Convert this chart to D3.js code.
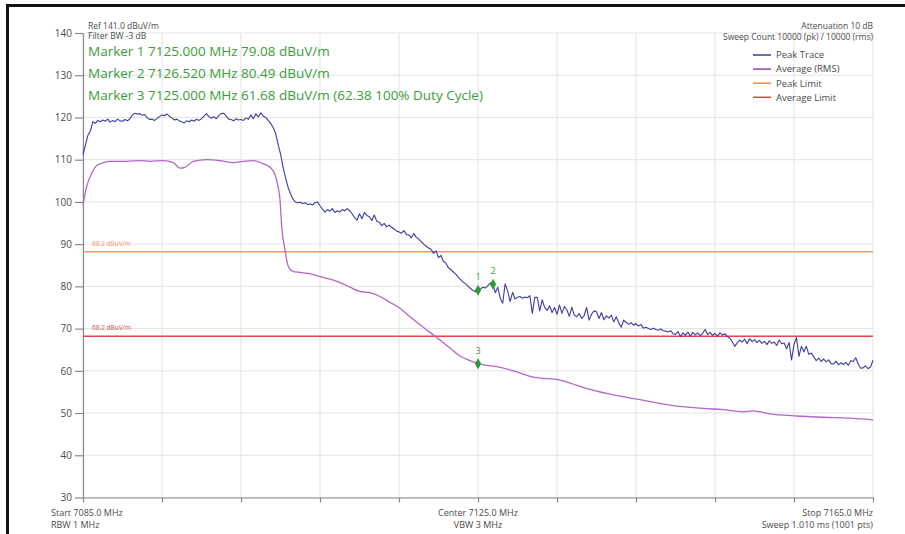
<!DOCTYPE html>
<html>
<head>
<meta charset="utf-8">
<script src="https://cdn.jsdelivr.net/npm/d3@7"></script>
<style>
  html, body { margin: 0; padding: 0; background: #fff; }
  svg { display: block; font-family: "Open Sans", "Noto Sans", sans-serif; }
</style>
</head>
<body>
<svg id="chart" width="905" height="534"></svg>
<script>
// Sweep settings
const startFreq = 7085.0;
const stopFreq = 7165.0;
const peakStep = 0.25; // MHz between peak-trace samples

const levelTicks = [30, 40, 50, 60, 70, 80, 90, 100, 110, 120, 130, 140];
const freqTicks = [7085, 7093, 7101, 7109, 7117, 7125, 7133, 7141, 7149, 7157, 7165];

// Peak trace (dBuV/m), one sample every 0.25 MHz from 7085.0 MHz
const peakLevel = [
  111.2, 113.5, 115.8, 116.8,
  119.0, 118.6, 119.3, 119.0,
  119.4, 119.1, 119.6, 118.9,
  119.3, 119.0, 119.6, 119.2,
  119.1, 119.5, 119.2, 119.7,
  120.6, 121.0, 120.8, 120.9,
  120.5, 120.7, 119.9, 119.5,
  119.6, 119.3, 119.8, 120.2,
  120.6, 120.4, 120.8, 120.3,
  119.9, 119.4, 119.6, 119.2,
  118.9, 118.7, 119.2, 119.0,
  119.4, 119.1, 119.6, 119.3,
  119.7, 120.3, 120.9, 120.2,
  119.8, 120.2, 119.7, 120.5,
  120.9, 121.0, 120.3, 119.6,
  119.5, 119.2, 119.7, 119.4,
  119.5, 119.3, 119.9, 119.6,
  120.6, 119.7, 120.9, 120.1,
  121.1, 120.3, 120.0, 119.3,
  118.6, 117.6, 116.3, 113.7,
  111.4, 108.3, 105.8, 103.6,
  102.0, 100.7, 100.0, 99.8,
  99.9, 99.6, 99.8, 99.4,
  99.5, 99.3, 99.8, 100.0,
  99.1, 98.3, 97.6, 98.2,
  97.8, 98.4, 97.5, 97.9,
  97.6, 98.2, 97.9, 98.4,
  97.9, 97.2, 96.3, 95.7,
  97.2, 96.0, 97.5, 96.8,
  96.5, 95.6, 96.9, 95.4,
  95.2, 94.4, 94.9, 94.1,
  94.5, 94.0, 93.6, 93.1,
  92.9, 92.6, 93.2, 92.3,
  92.2, 91.5, 92.5, 91.6,
  91.2, 90.6, 90.0, 89.5,
  89.1, 88.8, 87.8, 88.4,
  86.8, 87.3, 85.9, 85.5,
  84.4, 84.0, 83.4, 82.9,
  82.2, 81.6, 81.0, 80.6,
  80.0, 79.5, 79.0, 78.7,
  79.08, 79.4, 79.8, 79.6,
  80.2, 80.8, 80.49, 78.5,
  79.8, 77.2, 76.0, 80.6,
  79.0, 76.4, 78.6, 77.0,
  77.4, 77.6, 77.2, 77.5,
  77.3, 77.8, 73.6, 77.4,
  77.4, 74.2, 76.8, 75.0,
  74.3, 75.4, 73.8, 75.0,
  73.4, 75.6, 73.6, 75.2,
  74.4, 72.9, 75.1, 73.2,
  72.8, 73.6, 72.4, 73.1,
  75.0, 72.0, 73.4, 74.2,
  74.0, 72.4, 73.8, 72.1,
  73.0, 72.5, 73.2, 71.6,
  72.8, 71.4, 70.3, 72.0,
  71.5, 71.0, 71.4, 70.8,
  71.2, 70.6, 71.0, 70.1,
  70.3, 70.0, 69.8, 70.1,
  69.8, 69.6, 69.9, 69.5,
  69.4, 69.2, 69.5, 68.8,
  68.6, 69.3, 68.1, 69.0,
  68.4, 69.2, 68.2, 69.1,
  68.5, 69.0, 68.3, 68.9,
  69.8, 68.6, 69.1, 68.4,
  68.9, 68.2, 69.0, 68.5,
  68.8, 68.1, 67.7, 66.9,
  65.8, 66.6, 67.3, 66.8,
  67.5, 66.4, 67.6, 66.9,
  67.4, 66.7, 67.2, 66.5,
  67.0, 66.2, 67.1, 66.5,
  66.8, 66.0, 67.3, 66.4,
  66.6, 65.2, 66.7, 62.6,
  66.2, 67.9, 63.4, 65.8,
  64.5, 65.8, 63.9, 64.2,
  63.3, 62.4, 63.0, 62.2,
  62.8, 62.1, 62.6, 61.7,
  61.6, 62.3, 61.4, 61.9,
  61.5, 62.0, 61.3, 62.4,
  62.2, 63.1, 61.6, 60.6,
  60.7, 61.2, 60.5, 60.9,
  62.5
];

// Average (RMS) trace: frequency (MHz) and level (dBuV/m)
const avgFreq = [
  7085.0, 7085.37, 7085.88, 7086.39, 7087.06, 7087.73, 7089.43, 7090.77, 7091.78,
  7093.13, 7094.14, 7094.82, 7095.33, 7096.17, 7097.53, 7098.87, 7100.22, 7101.23,
  7102.25, 7103.26, 7103.94, 7104.44, 7104.75, 7104.95, 7105.12, 7105.46, 7105.79,
  7106.3, 7106.97, 7107.99, 7109.0, 7110.01, 7111.03, 7112.04, 7113.05, 7114.06,
  7115.08, 7116.09, 7117.1, 7118.11, 7119.13, 7120.14, 7121.15, 7122.16, 7123.18,
  7124.19, 7125.0, 7126.89, 7128.57, 7130.6, 7133.3, 7134.32, 7136.34, 7138.7,
  7141.07, 7144.44, 7147.81, 7149.84, 7151.87, 7152.88, 7154.57, 7157.27, 7159.97,
  7162.66, 7165.0
];
const avgLevel = [
  99.3, 103.6, 106.8, 108.6, 109.3, 109.6, 109.6, 109.8, 109.6,
  109.8, 109.3, 108.0, 108.2, 109.6, 110.0, 109.8, 109.3, 109.6,
  109.8, 109.0, 108.2, 106.5, 103.6, 100.5, 94.2, 88.6, 84.7,
  83.5, 83.3, 83.0, 82.3, 81.7, 80.9, 79.8, 78.8, 78.5,
  77.6, 76.2, 74.8, 72.8, 70.9, 69.1, 67.3, 65.4, 63.5,
  62.4, 61.68, 61.0, 60.0, 58.5, 57.8, 57.1, 55.6, 54.3,
  53.3, 51.9, 51.1, 50.8, 50.3, 50.5, 49.8, 49.3, 49.0,
  48.8, 48.4
];

// Limit lines
const limitNames = ["Peak Limit", "Average Limit"];
const limitLevels = [88.2, 68.2];
const limitLabels = ["88.2 dBuV/m", "68.2 dBuV/m"];

// Markers
const markerIds = ["1", "2", "3"];
const markerFreq = [7125.000, 7126.520, 7125.000];
const markerLevel = [79.08, 80.49, 61.68];
const markerTexts = [
  "Marker 1 7125.000 MHz 79.08 dBuV/m",
  "Marker 2 7126.520 MHz 80.49 dBuV/m",
  "Marker 3 7125.000 MHz 61.68 dBuV/m (62.38 100% Duty Cycle)"
];

// Legend
const legendNames = ["Peak Trace", "Average (RMS)", "Peak Limit", "Average Limit"];

const colors = {
  peak: "#3c3f9a",
  avg: "#b466c8",
  peakLimit: "#f29a6a",
  avgLimit: "#e2474d",
  marker: "#2f9a34",
  markerText: "#3a9d3a",
  grid: "#e3e3e3",
  axis: "#8a8a8a",
  text: "#4a4a4a"
};
const legendColors = ["#3c3f8f", "#9a3fb3", "#f0874e", "#d8403f"];

const svg = d3.select("#chart");

// Frame
svg.append("path")
  .attr("d", "M7.5,540 V5.5 H910")
  .attr("fill", "none")
  .attr("stroke", "#111")
  .attr("stroke-width", 3);

const x = d3.scaleLinear().domain([startFreq, stopFreq]).range([83, 873]);
const y = d3.scaleLinear().domain([30, 140]).range([497.5, 33]);

// Grid
const grid = svg.append("g").attr("class", "grid");
grid.selectAll("line.h").data(levelTicks).join("line")
  .attr("x1", x.range()[0]).attr("x2", x.range()[1])
  .attr("y1", d => y(d)).attr("y2", d => y(d))
  .attr("stroke", colors.grid).attr("stroke-width", 1);
grid.selectAll("line.v").data(freqTicks).join("line")
  .attr("x1", d => x(d)).attr("x2", d => x(d))
  .attr("y1", y(140)).attr("y2", y(30))
  .attr("stroke", colors.grid).attr("stroke-width", 1);

// Axes
const yAxis = svg.append("g")
  .attr("transform", `translate(${x.range()[0]},0)`)
  .call(d3.axisLeft(y).tickValues(levelTicks).tickSize(8).tickPadding(3).tickSizeOuter(0));
const xAxis = svg.append("g")
  .attr("transform", `translate(0,${y(30)})`)
  .call(d3.axisBottom(x).tickValues(freqTicks).tickSize(5).tickFormat("").tickSizeOuter(0));
[yAxis, xAxis].forEach(g => {
  g.select(".domain").attr("stroke", colors.axis).attr("stroke-width", 1.2);
  g.selectAll(".tick line").attr("stroke", colors.axis).attr("stroke-width", 1.2);
  g.selectAll(".tick text").attr("fill", colors.text)
    .style("font-size", "10px").style("font-family", "'Open Sans', sans-serif");
});

// Limit lines
const limitColors = [colors.peakLimit, colors.avgLimit];
limitLevels.forEach((lv, i) => {
  svg.append("line")
    .attr("x1", x(startFreq)).attr("x2", x(stopFreq))
    .attr("y1", y(lv)).attr("y2", y(lv))
    .attr("stroke", limitColors[i]).attr("stroke-width", 1.6);
  svg.append("text")
    .attr("x", x(startFreq) + 9).attr("y", y(lv) - 6)
    .attr("fill", limitColors[i])
    .style("font-size", "6.5px")
    .text(limitLabels[i]);
});

// Traces
const peakData = peakLevel.map((v, i) => [startFreq + i * peakStep, v]);
const avgData = avgFreq.map((f, i) => [f, avgLevel[i]]);
const line = d3.line().x(d => x(d[0])).y(d => y(d[1]));
const lineSmooth = d3.line().x(d => x(d[0])).y(d => y(d[1])).curve(d3.curveMonotoneX);

svg.append("path").datum(avgData)
  .attr("d", lineSmooth)
  .attr("fill", "none").attr("stroke", colors.avg).attr("stroke-width", 1.3);
svg.append("path").datum(peakData)
  .attr("d", line)
  .attr("fill", "none").attr("stroke", colors.peak).attr("stroke-width", 1.1)
  .attr("stroke-linejoin", "round");

// Markers
markerIds.forEach((id, i) => {
  const mx = x(markerFreq[i]), my = y(markerLevel[i]);
  svg.append("path")
    .attr("d", d3.symbol(d3.symbolDiamond, 34)())
    .attr("transform", `translate(${mx},${my})`)
    .attr("fill", colors.marker);
  svg.append("text")
    .attr("x", mx).attr("y", my - 10)
    .attr("text-anchor", "middle")
    .attr("fill", colors.markerText)
    .style("font-size", "9px")
    .text(id);
});

// Header text
const header = svg.append("g").attr("fill", colors.text).style("font-size", "8.5px");
header.append("text").attr("x", 88).attr("y", 28.5).text("Ref 141.0 dBuV/m");
header.append("text").attr("x", 88).attr("y", 39).text("Filter BW -3 dB");
header.append("text").attr("x", 873).attr("y", 28.5).attr("text-anchor", "end").text("Attenuation 10 dB");
header.append("text").attr("x", 873).attr("y", 39.5).attr("text-anchor", "end").text("Sweep Count 10000 (pk) / 10000 (rms)");

svg.append("g").selectAll("text").data(markerTexts).join("text")
  .attr("x", 88).attr("y", (d, i) => 55.5 + i * 22)
  .attr("fill", colors.markerText)
  .style("font-size", "13.5px")
  .text(d => d);

// Legend
const legend = svg.append("g").style("font-size", "9.5px");
legendNames.forEach((name, i) => {
  const ly = 55 + i * 14.1;
  legend.append("line")
    .attr("x1", 753).attr("x2", 771).attr("y1", ly).attr("y2", ly)
    .attr("stroke", legendColors[i]).attr("stroke-width", 1.5);
  legend.append("text")
    .attr("x", 776).attr("y", ly + 3.3)
    .attr("fill", colors.text)
    .text(name);
});

// Footer text
const footer = svg.append("g").attr("fill", colors.text).style("font-size", "9px");
const centerFreq = (startFreq + stopFreq) / 2;
footer.append("text").attr("x", 51).attr("y", 516).text(`Start ${startFreq.toFixed(1)} MHz`);
footer.append("text").attr("x", 51).attr("y", 527.5).text("RBW 1 MHz");
footer.append("text").attr("x", x(centerFreq)).attr("y", 516).attr("text-anchor", "middle")
  .text(`Center ${centerFreq.toFixed(1)} MHz`);
footer.append("text").attr("x", x(centerFreq)).attr("y", 527.5).attr("text-anchor", "middle")
  .text("VBW 3 MHz");
footer.append("text").attr("x", 873).attr("y", 516).attr("text-anchor", "end").text(`Stop ${stopFreq.toFixed(1)} MHz`);
footer.append("text").attr("x", 873).attr("y", 527.5).attr("text-anchor", "end").text("Sweep 1.010 ms (1001 pts)");
</script>
</body>
</html>
